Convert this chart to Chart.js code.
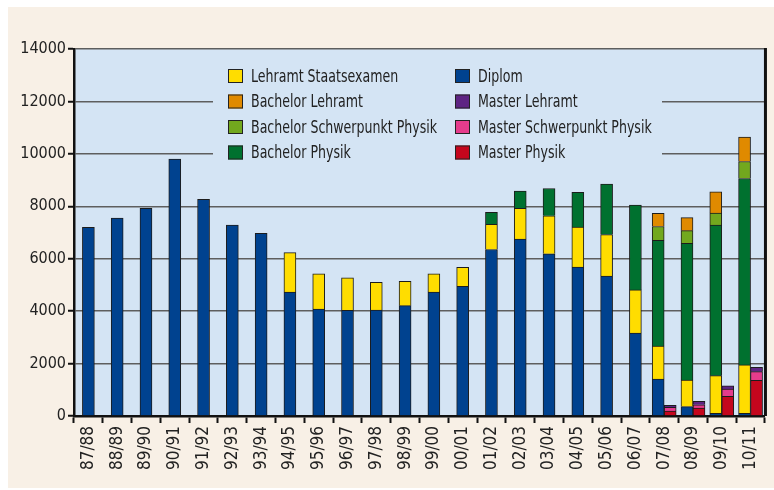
<!DOCTYPE html>
<html>
<head>
<meta charset="utf-8">
<script src="https://cdn.jsdelivr.net/npm/chart.js@4"></script>
<style>
  body { margin: 0; background: #fff; }
  #frame { position: absolute; left: 8px; top: 7px; width: 766px; height: 481px; background: #f8f0e6; }
  #wrap { position: absolute; left: 0; top: 0; width: 774px; height: 490px; }
</style>
</head>
<body>
<div id="frame"></div>
<div id="wrap"><canvas id="chart" width="774" height="490"></canvas></div>
<script>
// Semester categories
const categories = ['87/88', '88/89', '89/90', '90/91', '91/92', '92/93', '93/94', '94/95', '95/96', '96/97',
  '97/98', '98/99', '99/00', '00/01', '01/02', '02/03', '03/04', '04/05', '05/06', '06/07',
  '07/08', '08/09', '09/10', '10/11'];

// first stack
const diplom = [7200, 7550, 7920, 9800, 8270, 7280, 6970, 4730, 4080, 4030, 4040, 4210, 4730, 4950,
  6350, 6750, 6190, 5680, 5340, 3160, 1410, 360, 100, 100];
const lehramtStaatsexamen = [null, null, null, null, null, null, null, 1500, 1340, 1240, 1060, 930, 690, 720,
  960, 1170, 1450, 1530, 1580, 1650, 1260, 1010, 1440, 1850];
const bachelorPhysik = [null, null, null, null, null, null, null, null, null, null, null, null, null, null,
  460, 660, 1040, 1320, 1930, 3240, 4030, 5220, 5740, 7110];
const bachelorSchwerpunkt = [null, null, null, null, null, null, null, null, null, null, null, null, null, null,
  null, null, null, null, null, null, 530, 480, 460, 650];
const bachelorLehramt = [null, null, null, null, null, null, null, null, null, null, null, null, null, null,
  null, null, null, null, null, null, 500, 500, 810, 930];

// second stack (master)
const masterPhysik = [null, null, null, null, null, null, null, null, null, null, null, null, null, null,
  null, null, null, null, null, null, 190, 300, 750, 1360];
const masterSchwerpunkt = [null, null, null, null, null, null, null, null, null, null, null, null, null, null,
  null, null, null, null, null, null, 140, 130, 280, 330];
const masterLehramt = [null, null, null, null, null, null, null, null, null, null, null, null, null, null,
  null, null, null, null, null, null, 80, 130, 125, 170];

const yTicks = [0, 2000, 4000, 6000, 8000, 10000, 12000, 14000];

const legendCols = [
  ['Lehramt Staatsexamen', 'Bachelor Lehramt', 'Bachelor Schwerpunkt Physik', 'Bachelor Physik'],
  ['Diplom', 'Master Lehramt', 'Master Schwerpunkt Physik', 'Master Physik']
];

const FONT = '"Liberation Sans Narrow", "DejaVu Sans Condensed", "Roboto Condensed", sans-serif';
const PLOT_BG = '#d4e4f4';

function ds(label, data, color, stack) {
    return {
        label: label,
        data: data,
        backgroundColor: color,
        borderColor: '#1c1c1c',
        borderWidth: 1,
        stack: stack
    };
}

const plotBg = {
    id: 'plotBg',
    beforeDraw(chart) {
        const a = chart.chartArea, ctx = chart.ctx;
        ctx.save();
        ctx.fillStyle = PLOT_BG;
        ctx.fillRect(a.left, a.top, a.right - a.left, a.bottom - a.top);
        ctx.restore();
    },
    afterDraw(chart) {
        const a = chart.chartArea, ctx = chart.ctx;
        ctx.save();
        ctx.strokeStyle = '#111';
        ctx.lineWidth = 3;
        ctx.beginPath();
        ctx.moveTo(a.right + 0.5, a.top - 1);
        ctx.lineTo(a.right + 0.5, a.bottom);
        ctx.stroke();
        ctx.restore();
    }
};

// legend sits inside the plot, covering the grid lines
const innerLegend = {
    id: 'innerLegend',
    beforeDatasetsDraw(chart) {
        const ctx = chart.ctx;
        const byLabel = {};
        chart.data.datasets.forEach(d => { byLabel[d.label] = d.backgroundColor; });
        ctx.save();
        ctx.fillStyle = PLOT_BG;
        ctx.fillRect(213, 58, 449, 112);
        ctx.font = '17.5px ' + FONT;
        ctx.textBaseline = 'middle';
        const colX = [228, 455];
        legendCols.forEach((col, ci) => {
            col.forEach((label, ri) => {
                const y = 76 + ri * 25.5;
                ctx.fillStyle = byLabel[label];
                ctx.fillRect(colX[ci], y - 7, 15, 14);
                ctx.strokeStyle = '#222';
                ctx.lineWidth = 1;
                ctx.strokeRect(colX[ci] + 0.5, y - 6.5, 14, 13);
                // squeeze text, the original uses a condensed face
                ctx.save();
                ctx.translate(colX[ci] + 23, y + 1);
                ctx.scale(0.8, 1);
                ctx.fillStyle = '#222';
                ctx.fillText(label, 0, 0);
                ctx.restore();
            });
        });
        ctx.restore();
    }
};

new Chart(document.getElementById('chart'), {
    type: 'bar',
    data: {
        labels: categories,
        datasets: [
            ds('Diplom', diplom, '#00428f', 'a'),
            ds('Lehramt Staatsexamen', lehramtStaatsexamen, '#ffdd00', 'a'),
            ds('Bachelor Physik', bachelorPhysik, '#00712f', 'a'),
            ds('Bachelor Schwerpunkt Physik', bachelorSchwerpunkt, '#72a81e', 'a'),
            ds('Bachelor Lehramt', bachelorLehramt, '#e08a00', 'a'),
            ds('Master Physik', masterPhysik, '#c4061d', 'b'),
            ds('Master Schwerpunkt Physik', masterSchwerpunkt, '#e53c8c', 'b'),
            ds('Master Lehramt', masterLehramt, '#5e2483', 'b')
        ]
    },
    options: {
        responsive: false,
        animation: false,
        skipNull: true,
        barThickness: 12,
        layout: { padding: { left: 8, top: 49, right: 2, bottom: 0 } },
        plugins: {
            legend: { display: false },
            tooltip: { enabled: false }
        },
        scales: {
            x: {
                stacked: true,
                grid: { drawOnChartArea: false, drawTicks: true, tickLength: 7, tickColor: '#111', tickWidth: 2 },
                border: { color: '#111', width: 2.5 },
                ticks: {
                    color: '#222',
                    font: { family: FONT, size: 17 },
                    minRotation: 90,
                    maxRotation: 90,
                    padding: 3,
                    autoSkip: false
                },
                afterFit(s) { s.height = 74; }
            },
            y: {
                stacked: true,
                min: 0,
                max: 14000,
                afterBuildTicks(s) { s.ticks = yTicks.map(v => ({ value: v })); },
                grid: { color: '#5e5e5e', lineWidth: 1.5, tickLength: 6, tickColor: '#111', tickWidth: 2 },
                border: { color: '#111', width: 2.5 },
                ticks: {
                    color: '#222',
                    font: { family: FONT, size: 16 },
                    padding: 2,
                    callback: v => String(v)
                },
                afterFit(s) { s.width = 66; }
            }
        }
    },
    plugins: [plotBg, innerLegend]
});
</script>
</body>
</html>
